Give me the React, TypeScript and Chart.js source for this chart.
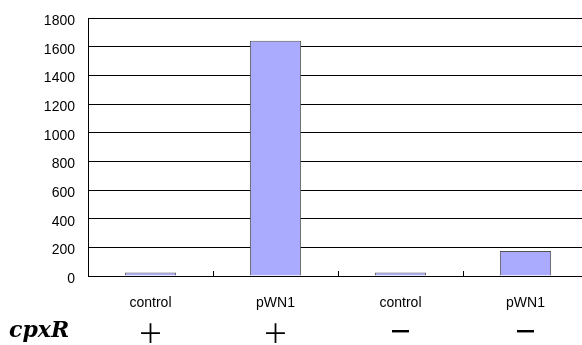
import React, { useEffect, useRef } from "react";
import { Chart, registerables } from "chart.js";

Chart.register(...registerables);

const categories = ["control", "pWN1", "control", "pWN1"];
const values = [25, 1642, 24, 175];
const cpxRSigns = ["＋", "＋", "－", "－"];
const rowLabel = "cpxR";
const yMin = 0;
const yMax = 1800;
const yStep = 200;

const extrasPlugin = {
  id: "extras",
  afterDraw(chart: any) {
    const { ctx, chartArea, scales } = chart;
    const x = scales.x;
    ctx.save();
    ctx.strokeStyle = "#000";
    ctx.lineWidth = 1;
    for (let i = 1; i < categories.length; i++) {
      const bx = Math.round((x.getPixelForValue(i - 1) + x.getPixelForValue(i)) / 2) + 0.5;
      ctx.beginPath();
      ctx.moveTo(bx, chartArea.bottom - 5);
      ctx.lineTo(bx, chartArea.bottom);
      ctx.stroke();
    }
    ctx.fillStyle = "#000";
    ctx.textBaseline = "middle";
    ctx.textAlign = "center";
    cpxRSigns.forEach((s, i) => {
      if (s === "＋") {
        ctx.font = "26px 'Noto Sans CJK JP'";
        ctx.fillText(s, x.getPixelForValue(i), 333);
      } else {
        ctx.font = "bold 24px 'Noto Sans CJK JP'";
        ctx.fillText(s, x.getPixelForValue(i), 331);
      }
    });
    ctx.textAlign = "left";
    ctx.textBaseline = "alphabetic";
    ctx.font = "bold italic 22px 'DejaVu Serif'";
    ctx.fillText(rowLabel, 9, 337);
    ctx.restore();
  },
};

export default function App() {
  const ref = useRef<HTMLCanvasElement>(null);
  useEffect(() => {
    if (!ref.current) return;
    const chart = new Chart(ref.current, {
      type: "bar",
      data: {
        labels: categories,
        datasets: [
          {
            data: values,
            backgroundColor: "#AAAAFF",
            borderColor: "#555555",
            borderWidth: 1,
            barPercentage: 0.41,
            categoryPercentage: 1,
          },
        ],
      },
      options: {
        responsive: false,
        animation: false,
        layout: { padding: { top: 18, left: 0, right: 0, bottom: 0 } },
        plugins: { legend: { display: false }, tooltip: { enabled: false } },
        scales: {
          x: {
            grid: { display: false, drawTicks: false },
            border: { display: true, color: "#000", width: 1 },
            ticks: {
              color: "#000",
              padding: 19,
              font: { family: "'Liberation Sans'", size: 14 },
            },
            afterFit: (s: any) => {
              s.height = 69;
            },
          },
          y: {
            min: yMin,
            max: yMax,
            ticks: {
              stepSize: yStep,
              color: "#000",
              padding: 0,
              labelOffset: 3,
              callback: (v: any) => String(v),
              font: { family: "'Liberation Sans'", size: 14 },
            },
            grid: {
              color: "#000",
              drawTicks: true,
              tickLength: 13,
              tickColor: "rgba(0,0,0,0)",
            },
            border: { display: true, color: "#000", width: 1 },
            afterFit: (s: any) => {
              s.width = 88;
            },
          },
        },
      },
      plugins: [extrasPlugin],
    });
    return () => chart.destroy();
  }, []);
  return (
    <div
      style={{
        position: "fixed",
        left: 0,
        top: 0,
        width: 582,
        height: 345,
        overflow: "hidden",
        background: "#fff",
      }}
    >
      <canvas ref={ref} width={588} height={345} style={{ display: "block" }} />
    </div>
  );
}
